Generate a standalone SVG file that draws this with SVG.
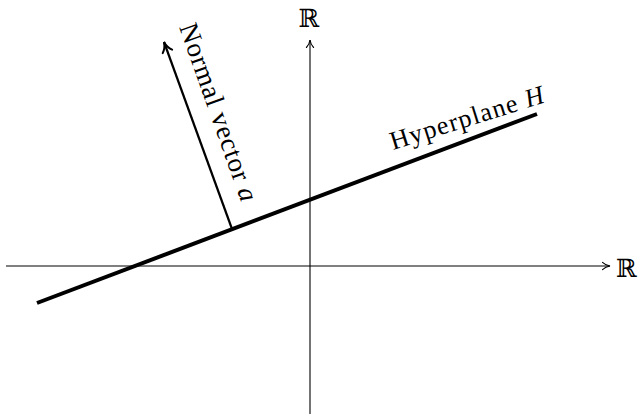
<svg xmlns="http://www.w3.org/2000/svg" width="639" height="417" viewBox="0 0 639 417">
  <style>
    .axis { stroke: #000; stroke-width: 1.1; fill: none; }
    .plane { stroke: #000; stroke-width: 4; fill: none; stroke-linecap: butt; }
    .normal { stroke: #000; stroke-width: 2.2; fill: none; }
    .lbl { font-family: "Liberation Serif", "Times New Roman", serif; fill: #000; }
    .bb { font-family: "DejaVu Serif", "DejaVu Sans", serif; font-size: 25px; fill: #000; }
    .it { font-style: italic; }
  </style>
  <defs>
    <marker id="arrS" markerUnits="userSpaceOnUse" orient="auto" viewBox="-10 -6 12 12" refX="0" refY="0" markerWidth="12" markerHeight="12" overflow="visible">
      <path d="M -7.5,-3.6 C -5,-1.2 -2,-0.3 0,0 C -2,0.3 -5,1.2 -7.5,3.6" stroke="#000" stroke-width="1.1" fill="none" stroke-linecap="round"/>
    </marker>
    <marker id="arrL" markerUnits="userSpaceOnUse" orient="auto" viewBox="-14 -8 16 16" refX="0" refY="0" markerWidth="16" markerHeight="16" overflow="visible">
      <path d="M -10,-5 C -7,-1.8 -3,-0.4 0,0 C -3,0.4 -7,1.8 -10,5" stroke="#000" stroke-width="2" fill="none" stroke-linecap="round"/>
    </marker>
  </defs>

  <g id="connectors">
    <line id="x-axis" class="axis" x1="6" y1="266" x2="610" y2="266" marker-end="url(#arrS)"/>
    <line id="y-axis" class="axis" x1="310" y1="414" x2="310" y2="40" marker-end="url(#arrS)"/>
  </g>

  <g id="hyperplane">
    <line class="plane" x1="37" y1="303" x2="537" y2="114"/>
    <text class="lbl" font-size="26" transform="translate(393,150) rotate(-17.4)" textLength="160" lengthAdjust="spacing">Hyperplane <tspan class="it">H</tspan></text>
  </g>

  <g id="normal-vector">
    <line class="normal" x1="232" y1="229" x2="164" y2="42" marker-end="url(#arrL)"/>
    <text class="lbl" font-size="27" transform="translate(179,27) rotate(70.5)" textLength="187" lengthAdjust="spacing">Normal vector <tspan class="it">a</tspan></text>
  </g>

  <g id="axis-labels">
    <text class="bb" x="309" y="27" text-anchor="middle">ℝ</text>
    <text class="bb" x="616" y="277" font-size="24">ℝ</text>
  </g>
</svg>
